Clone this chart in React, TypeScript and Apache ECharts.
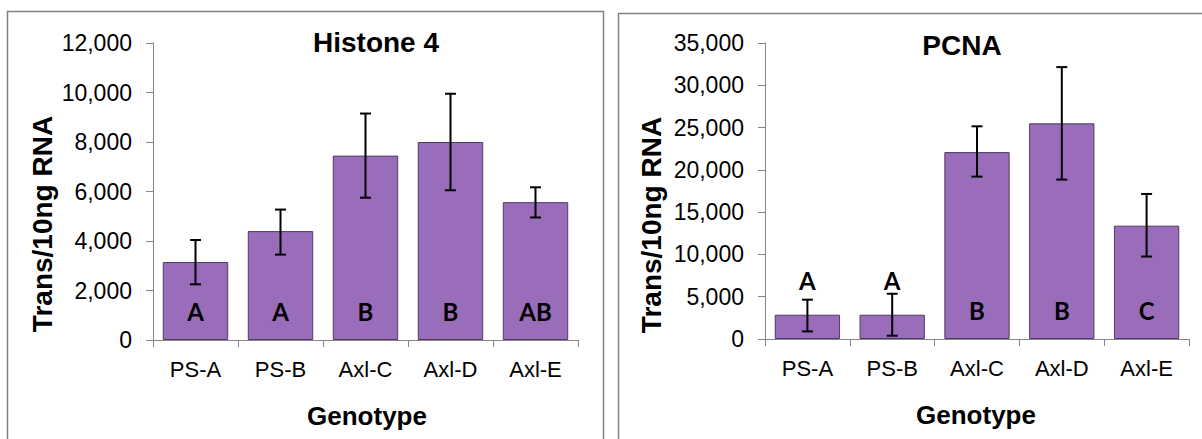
import React, { useEffect, useRef } from "react";
import * as echarts from "echarts";

const categories = ["PS-A", "PS-B", "Axl-C", "Axl-D", "Axl-E"];

const h4Title = "Histone 4";
const h4Values = [3150, 4400, 7450, 8000, 5570];
const h4ErrLow = [2250, 3450, 5750, 6050, 4950];
const h4ErrHigh = [4040, 5270, 9150, 9950, 6170];
const h4Letters = ["A", "A", "B", "B", "AB"];
const h4LetterAt = [1140, 1140, 1140, 1140, 1140];
const h4Max = 12000;
const h4Interval = 2000;

const pcnaTitle = "PCNA";
const pcnaValues = [2870, 2870, 22100, 25500, 13400];
const pcnaErrLow = [900, 390, 19200, 18850, 9750];
const pcnaErrHigh = [4650, 5350, 25150, 32150, 17150];
const pcnaLetters = ["A", "A", "B", "B", "C"];
const pcnaLetterAt = [6950, 6950, 3380, 3380, 3380];
const pcnaMax = 35000;
const pcnaInterval = 5000;

const yTitle = "Trans/10ng RNA";
const xTitle = "Genotype";

const FONT = "'Liberation Sans', Arial, sans-serif";
const BAR = "#9A6DBB";
const AXIS = "#868686";

function makeAxes(gridIndex: number, max: number, interval: number) {
  const x = {
    type: "category",
    gridIndex,
    data: categories,
    axisLine: { show: true, lineStyle: { color: AXIS, width: 1 } },
    axisTick: { show: true, length: 7, lineStyle: { color: AXIS } },
    axisLabel: { color: "#000", fontFamily: FONT, fontSize: 22, margin: 18 },
    splitLine: { show: false },
  };
  const y = {
    type: "value",
    gridIndex,
    min: 0,
    max,
    interval,
    axisLine: { show: true, lineStyle: { color: AXIS, width: 1 } },
    axisTick: { show: true, length: 7, lineStyle: { color: AXIS } },
    axisLabel: {
      color: "#000",
      fontFamily: FONT,
      fontSize: 23,
      margin: 21,
      formatter: (v: number) => v.toLocaleString("en-US"),
    },
    splitLine: { show: false },
  };
  return { x, y };
}

function errSeries(idx: number, low: number[], high: number[]) {
  return {
    type: "custom",
    xAxisIndex: idx,
    yAxisIndex: idx,
    z: 5,
    data: categories.map((_, i) => [i, low[i], high[i]]),
    encode: { x: 0, y: [1, 2] },
    renderItem: (params: any, api: any) => {
      const i = api.value(0);
      const lo = api.coord([i, api.value(1)]);
      const hi = api.coord([i, api.value(2)]);
      const hw = 5.5;
      const st = { stroke: "#000", lineWidth: 2 };
      return {
        type: "group",
        children: [
          { type: "line", shape: { x1: lo[0], y1: lo[1], x2: hi[0], y2: hi[1] }, style: st },
          { type: "line", shape: { x1: lo[0] - hw, y1: lo[1], x2: lo[0] + hw, y2: lo[1] }, style: st },
          { type: "line", shape: { x1: hi[0] - hw, y1: hi[1], x2: hi[0] + hw, y2: hi[1] }, style: st },
        ],
      };
    },
  };
}

function letterSeries(idx: number, letters: string[], at: number[]) {
  return {
    type: "custom",
    xAxisIndex: idx,
    yAxisIndex: idx,
    z: 6,
    data: categories.map((_, i) => [i, at[i]]),
    encode: { x: 0, y: 1 },
    renderItem: (params: any, api: any) => {
      const p = api.coord([api.value(0), api.value(1)]);
      return {
        type: "text",
        x: p[0],
        y: p[1],
        style: {
          text: letters[params.dataIndex],
          fontFamily: "Lato, 'Open Sans', sans-serif",
          fontWeight: "bold",
          fontSize: 24,
          fill: "#000",
          align: "center",
          verticalAlign: "middle",
          textAlign: "center",
          textVerticalAlign: "middle",
        },
      };
    },
  };
}

function txt(text: string, x: number, y: number, size: number, rot = 0) {
  return {
    type: "text",
    x,
    y,
    rotation: rot,
    style: {
      text,
      fontFamily: FONT,
      fontWeight: "bold",
      fontSize: size,
      fill: "#000",
      align: "center",
      verticalAlign: "middle",
      textAlign: "center",
      textVerticalAlign: "middle",
    },
  };
}

export default function App() {
  const ref = useRef<HTMLDivElement>(null);
  useEffect(() => {
    document.body.style.margin = "0";
    const chart = echarts.init(ref.current!, null, { renderer: "svg" });
    const a0 = makeAxes(0, h4Max, h4Interval);
    const a1 = makeAxes(1, pcnaMax, pcnaInterval);
    chart.setOption({
      animation: false,
      backgroundColor: "#fff",
      grid: [
        { left: 153, top: 43, width: 425, height: 297 },
        { left: 765, top: 43, width: 424, height: 296 },
      ],
      xAxis: [a0.x, a1.x],
      yAxis: [a0.y, a1.y],
      series: [
        {
          type: "bar",
          xAxisIndex: 0,
          yAxisIndex: 0,
          data: h4Values,
          barWidth: "77%",
          itemStyle: { color: BAR, borderColor: "#4f3a63", borderWidth: 1 },
        },
        {
          type: "bar",
          xAxisIndex: 1,
          yAxisIndex: 1,
          data: pcnaValues,
          barWidth: "77%",
          itemStyle: { color: BAR, borderColor: "#4f3a63", borderWidth: 1 },
        },
        errSeries(0, h4ErrLow, h4ErrHigh),
        errSeries(1, pcnaErrLow, pcnaErrHigh),
        letterSeries(0, h4Letters, h4LetterAt),
        letterSeries(1, pcnaLetters, pcnaLetterAt),
      ],
      graphic: [
        {
          type: "rect",
          shape: { x: 7.5, y: 11.5, width: 596, height: 520 },
          style: { fill: "none", stroke: "#7f7f7f", lineWidth: 1.5 },
          silent: true,
        },
        {
          type: "rect",
          shape: { x: 618.5, y: 13.5, width: 700, height: 520 },
          style: { fill: "none", stroke: "#7f7f7f", lineWidth: 1.5 },
          silent: true,
        },
        txt(h4Title, 376, 42, 28),
        txt(pcnaTitle, 962, 45, 28),
        txt(yTitle, 42.5, 224, 28, Math.PI / 2),
        txt(yTitle, 651, 225, 28, Math.PI / 2),
        txt(xTitle, 367, 416, 26),
        txt(xTitle, 976, 415, 26),
      ],
    });
    return () => chart.dispose();
  }, []);
  return (
    <div
      ref={ref}
      style={{ position: "absolute", left: 0, top: 0, width: 1202, height: 439 }}
    />
  );
}
